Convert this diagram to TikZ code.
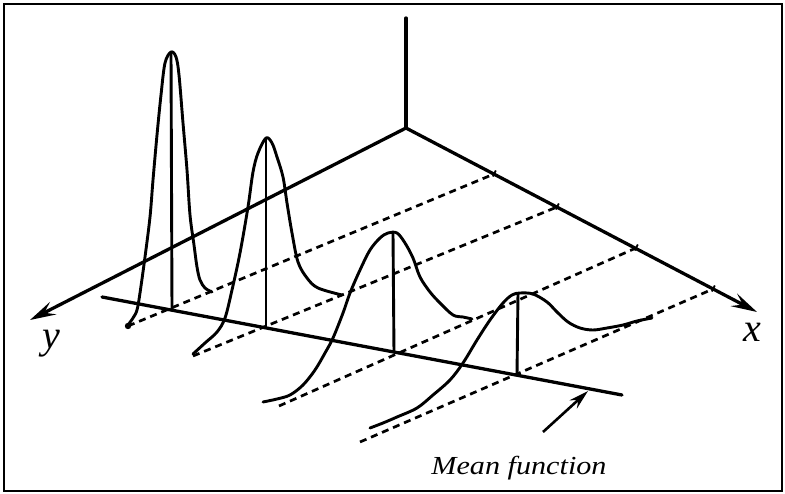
\documentclass[tikz,border=0pt]{standalone}
\usepackage{fontspec}
\setmainfont{Liberation Serif}
\usetikzlibrary{arrows.meta,calc}
\begin{document}
\begin{tikzpicture}[x=1pt,y=-1pt,
  axis/.style={line width=3.3pt, line cap=round},
  curve/.style={line width=2.9pt, line join=round, line cap=round},
  guide/.style={line width=2.7pt, dash pattern=on 7pt off 5pt},
  stem/.style={line width=2.9pt},
  bigtip/.style={-{Stealth[length=26pt,width=14pt,inset=10pt]}},
  smalltip/.style={-{Stealth[length=20pt,width=11pt,inset=7pt]}},
  axlabel/.style={font=\itshape\fontsize{40}{40}\selectfont, inner sep=0pt, anchor=base},
  txtlabel/.style={font=\itshape\fontsize{26}{26}\selectfont, inner sep=0pt, anchor=base, xscale=1.16}]
\useasboundingbox (0,0) rectangle (785,494);
\draw[line width=2pt] (4,4) rectangle (782,491);
% axes
\coordinate (O) at (406,128);
\coordinate (V) at (406,18);
\coordinate (Y) at (30,320);
\coordinate (X) at (757,312);
\draw[axis] (O) -- (V);
\draw[axis,bigtip] (O) -- (Y);
\draw[axis,bigtip] (O) -- (X);
\node[axlabel] (ylab) at (51,349) {y};
\node[axlabel] (xlab) at (752,342) {x};
% ticks on x axis
\coordinate (T1) at (494,174);
\coordinate (T2) at (557,207);
\coordinate (T3) at (636,248);
\coordinate (T4) at (713,289);
\foreach \t in {T1,T2,T3,T4}{
  \draw[line width=1.8pt] ($(\t)+(1.8,-3.5)$) -- ($(\t)+(-1.2,2.5)$);
}
% mean function line
\coordinate (L1) at (102,297);
\coordinate (L2) at (622,395);
\draw[axis] (L1) -- (L2);
\coordinate (M1) at (172,310);
\coordinate (M2) at (266,329);
\coordinate (M3) at (394,353);
\coordinate (M4) at (517,375);
% dashed guides
\coordinate (S1) at (128,326);
\coordinate (S2) at (193,356);
\coordinate (S3) at (279,406);
\coordinate (S4) at (360,442);
\draw[guide] (S1) -- (T1);
\draw[guide] (S2) -- (T2);
\draw[guide] (S3) -- (T3);
\draw[guide] (S4) -- (T4);
% peaks and stems
\coordinate (P1) at (171,52);
\coordinate (P2) at (266,138);
\coordinate (P3) at (393,233);
\coordinate (P4) at (518,293);
\draw[stem] (P1) -- (M1);
\draw[stem] (P2) -- (M2);
\draw[stem] (P3) -- (M3);
\draw[stem] (P4) -- (M4);
% densities
\draw[curve] plot[smooth,tension=0.55] coordinates {(128,325) (133,318) (137,310) (140,293) (145,257) (150,217) (153,180) (157,135) (161,95) (165,63) (171,52) (176,57) (179,75) (183,123) (187,170) (190,215) (194,245) (197,267) (200,280) (205,288) (212,292)};
\fill (128,326) circle (3.2pt);
\draw[curve] plot[smooth,tension=0.55] coordinates {(193,354) (205,343) (217,332) (225,318) (232,290) (240,253) (248,207) (253,172) (258,153) (266,138) (272,143) (277,157) (283,177) (287,203) (292,233) (298,262) (307,278) (318,288) (342,295)};
\draw[curve] plot[smooth,tension=0.55] coordinates {(263,402) (277,399) (290,395) (303,385) (315,370) (325,353) (333,338) (343,313) (350,293) (360,270) (370,250) (380,238) (388,233) (397,233) (405,243) (413,258) (420,277) (430,292) (440,303) (453,315) (463,317) (472,319)};
\draw[curve] plot[smooth,tension=0.55] coordinates {(370,428) (383,423) (397,417) (417,408) (433,395) (450,380) (463,363) (477,340) (490,320) (503,303) (512,295) (520,293) (533,294) (547,302) (557,312) (568,322) (580,328) (593,330) (607,328) (623,325) (637,321) (652,318)};
% mean function label and arrow
\node[txtlabel] (mlab) at (519,474) {Mean function};
\coordinate (A0) at (543,432);
\coordinate (A1) at (588,391);
\draw[line width=2.6pt,smalltip] (A0) -- (A1);
\end{tikzpicture}
\end{document}
